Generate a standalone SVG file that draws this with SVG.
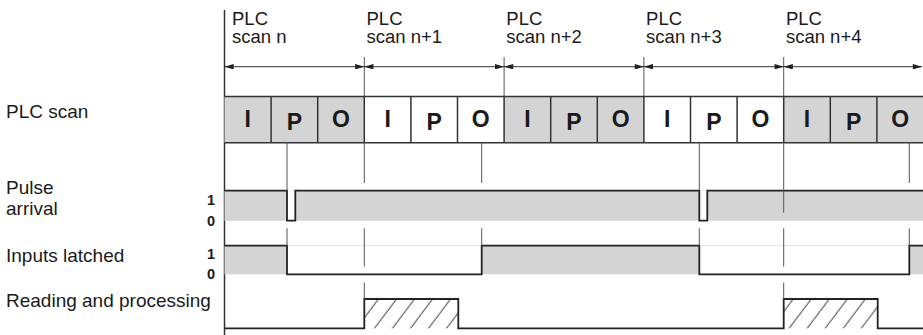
<svg xmlns="http://www.w3.org/2000/svg" width="923" height="335" viewBox="0 0 923 335">
<defs>
<style>
.lbl{font-family:"Liberation Sans",Arial,sans-serif;font-size:19px;fill:#1a1a1a}
.top{font-family:"Liberation Sans",Arial,sans-serif;font-size:18.5px;fill:#1a1a1a}
.cell{font-family:"Liberation Sans",Arial,sans-serif;font-size:23px;font-weight:bold;fill:#1a1a1a;text-anchor:middle}
.lvl{font-family:"Liberation Sans",Arial,sans-serif;font-size:14.5px;font-weight:bold;fill:#1a1a1a;text-anchor:end}
.sig{fill:none;stroke:#222;stroke-width:1.8}
.mark{stroke:#555;stroke-width:1;fill:none}
.grid{stroke:#333;stroke-width:1.5;fill:none}
.gray{fill:#d4d4d4}
.dim{stroke:#333;stroke-width:1;fill:none;marker-start:url(#ah);marker-end:url(#ah)}
</style>
<marker id="ah" viewBox="0 0 10 6" refX="10" refY="3" markerWidth="10" markerHeight="5.5" markerUnits="userSpaceOnUse" orient="auto-start-reverse"><path d="M0,0 L10,3 L0,6 z" fill="#222"/></marker>
<pattern id="hatch" patternUnits="userSpaceOnUse" width="14.4" height="10" patternTransform="rotate(37)"><line x1="7" y1="-1" x2="7" y2="11" stroke="#444" stroke-width="1"/></pattern>
</defs>

<g id="row-labels">
<text class="lbl" x="6" y="118.3">PLC scan</text>
<text class="lbl" x="6" y="193.5">Pulse</text>
<text class="lbl" x="6" y="215">arrival</text>
<text class="lbl" x="6" y="261.5">Inputs latched</text>
<text class="lbl" x="6" y="306.7">Reading and processing</text>
<text class="lvl" x="215" y="205">1</text>
<text class="lvl" x="215" y="225.5">0</text>
<text class="lvl" x="215" y="258.5">1</text>
<text class="lvl" x="215" y="278.5">0</text>
</g>

<g id="scan-labels">
<text class="top" x="232" y="25">PLC<tspan x="232" y="43">scan n</tspan></text>
<text class="top" x="366.5" y="25">PLC<tspan x="366.5" y="43">scan n+1</tspan></text>
<text class="top" x="506.3" y="25">PLC<tspan x="506.3" y="43">scan n+2</tspan></text>
<text class="top" x="646.1" y="25">PLC<tspan x="646.1" y="43">scan n+3</tspan></text>
<text class="top" x="785.9" y="25">PLC<tspan x="785.9" y="43">scan n+4</tspan></text>
</g>

<g id="connectors">
<line class="grid" x1="224.5" y1="10" x2="224.5" y2="335"/>
<path class="mark" d="M364.3,57V96.5M504.1,57V96.5M643.9,57V96.5M783.7,57V96.5"/>
<line class="dim" x1="224.5" y1="66.7" x2="364.3" y2="66.7"/>
<line class="dim" x1="364.3" y1="66.7" x2="504.1" y2="66.7"/>
<line class="dim" x1="504.1" y1="66.7" x2="643.9" y2="66.7"/>
<line class="dim" x1="643.9" y1="66.7" x2="783.7" y2="66.7"/>
<line class="dim" x1="783.7" y1="66.7" x2="922" y2="66.7"/>
</g>

<g id="scan-row">
<rect class="gray" x="224.5" y="96.5" width="139.8" height="46.2"/>
<rect class="gray" x="504.1" y="96.5" width="139.8" height="46.2"/>
<rect class="gray" x="783.7" y="96.5" width="140" height="46.2"/>
<path class="grid" d="M224.5,96.5H923M224.5,142.7H923M271.1,96.5V142.7M317.7,96.5V142.7M364.3,96.5V142.7M410.9,96.5V142.7M457.5,96.5V142.7M504.1,96.5V142.7M550.7,96.5V142.7M597.3,96.5V142.7M643.9,96.5V142.7M690.5,96.5V142.7M737.1,96.5V142.7M783.7,96.5V142.7M830.3,96.5V142.7M876.9,96.5V142.7"/>
<text class="cell" x="247.8" y="127">I</text><text class="cell" x="294.4" y="129.5">P</text><text class="cell" x="341" y="127">O</text>
<text class="cell" x="387.6" y="127">I</text><text class="cell" x="434.2" y="129.5">P</text><text class="cell" x="480.8" y="127">O</text>
<text class="cell" x="527.4" y="127">I</text><text class="cell" x="574" y="129.5">P</text><text class="cell" x="620.6" y="127">O</text>
<text class="cell" x="667.2" y="127">I</text><text class="cell" x="713.8" y="129.5">P</text><text class="cell" x="760.4" y="127">O</text>
<text class="cell" x="807" y="127">I</text><text class="cell" x="853.6" y="129.5">P</text><text class="cell" x="900.2" y="127">O</text>
</g>

<g id="pulse-arrival">
<path class="gray" d="M224.5,220.7V190.7H287V220.7H295.3V190.7H699.3V220.7H707.3V190.7H923V220.7Z"/>
<path class="sig" d="M224.5,190.7H287V220.7H295.3V190.7H699.3V220.7H707.3V190.7H923"/>
</g>

<g id="inputs-latched">
<rect class="gray" x="224.5" y="245.7" width="62.5" height="28.6"/>
<rect class="gray" x="481.7" y="245.7" width="217.6" height="28.6"/>
<rect class="gray" x="909.3" y="245.7" width="14" height="28.6"/>
<path d="M287,245.7H481.7M699.3,245.7H909.3" stroke="#e4e4e4" stroke-width="1" fill="none"/>
<path class="sig" d="M224.5,245.7H287V274.3H481.7V245.7H699.3V274.3H909.3V245.7H923"/>
</g>

<g id="reading-processing">
<rect x="364.3" y="299" width="94" height="29.3" fill="url(#hatch)"/>
<rect x="783.7" y="299" width="94" height="29.3" fill="url(#hatch)"/>
<path class="sig" d="M224.5,328.3H364.3V299H458.3V328.3H783.7V299H877.7V328.3H923"/>
</g>

<g id="markers">
<path class="mark" d="M287,142.7V190.7M287,228.3V245.7M364.3,142.7V183M364.3,228.3V266.7M364.3,282.7V299M481.7,142.7V183M481.7,228.3V245.7M699.3,142.7V190.7M699.3,228.3V245.7M783.7,142.7V212.7M783.7,228.3V266.7M783.7,282.7V299M909.3,142.7V183M909.3,228.3V245.7"/>
</g>
</svg>
